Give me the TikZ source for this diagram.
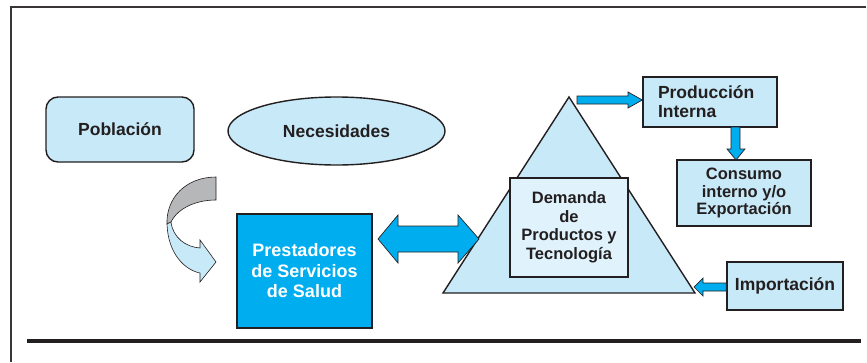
\documentclass[tikz,border=0pt]{standalone}
\usepackage{fontspec}
\setmainfont{Liberation Sans}
\usetikzlibrary{shapes.geometric}
\definecolor{lblue}{HTML}{C8E9F8}
\definecolor{llblue}{HTML}{E0F3FC}
\definecolor{cyanb}{HTML}{00AEEF}
\definecolor{ink}{HTML}{231F20}
\definecolor{grayarr}{HTML}{B5B7B9}
\begin{document}
\begin{tikzpicture}[x=1pt,y=-1pt,
  box/.style={draw=ink,line width=1.4pt,fill=lblue,inner sep=0pt,text=ink,align=center,
    font=\bfseries\fontsize{17.5}{19}\selectfont},
  blockarrow/.style={draw=ink,line width=0.7pt,fill=cyanb,line join=miter},
  frameline/.style={draw=ink!90,line width=1.2pt}]
\useasboundingbox (0,0) rectangle (867,362);
% frame
\draw[frameline] (11,362) -- (11,7) -- (866,7);
\draw[ink,line width=3.5pt] (27,341) -- (861,341);
% nodes
\node[box,rounded corners=12pt,minimum width=148pt,minimum height=65pt] (pob) at (120,129.5) {Población};
\node[box,ellipse,minimum width=217pt,minimum height=68pt] (nec) at (336.5,131) {Necesidades};
\node[box,fill=cyanb,text=white,minimum width=135pt,minimum height=114pt,
  font=\bfseries\fontsize{18}{20.5}\selectfont] (pre) at (304.5,271) {Prestadores\\de Servicios\\de Salud};
% triangle
\coordinate (apex) at (569,97);
\coordinate (bl) at (443,293);
\coordinate (br) at (695,293);
\draw[fill=lblue,draw=ink,line width=1.4pt] (apex) -- (bl) -- (br) -- cycle;
\node[box,fill=llblue,minimum width=118pt,minimum height=99pt,
  font=\bfseries\fontsize{16.5}{18.5}\selectfont] (dem) at (569,227.5) {Demanda\\de\\Productos y\\Tecnología};
\node[box,minimum width=134pt,minimum height=50pt,inner xsep=15pt,text width=104pt,align=left] (prod) at (710,102) {Producción\\Interna};
\node[box,minimum width=134pt,minimum height=66pt,
  font=\bfseries\fontsize{16.5}{17.5}\selectfont] (con) at (744,193) {Consumo\\interno y/o\\Exportación};
\node[box,minimum width=116pt,minimum height=48pt] (imp) at (785,286) {Importación};
% curved arrow (gray back, light blue front)
\coordinate (twist) at (167,224);
\draw[draw=ink,line width=0.6pt,fill=grayarr]
  (216,177) .. controls (186,177) and (166,198) .. (twist)
  -- (171,222) .. controls (178,208) and (196,200) .. (216,200) -- cycle;
\draw[draw=ink,line width=0.6pt,fill=lblue]
  (twist) .. controls (168,254) and (185,270) .. (200,273)
  -- (200,282) -- (216,262) -- (200,240) -- (200,248)
  .. controls (186,247) and (173,238) .. (171,222) -- cycle;
% double arrow between Prestadores and triangle
\draw[blockarrow] (378,239) -- (398,215) -- (398,226) -- (458,226) -- (458,215) -- (479,239)
  -- (458,263) -- (458,252) -- (398,252) -- (398,263) -- cycle;
% triangle -> Produccion
\draw[blockarrow] (577,96) -- (628,96) -- (628,92) -- (prod.west |- 0,100) -- (628,108) -- (628,104) -- (577,104) -- cycle;
% Produccion -> Consumo
\draw[blockarrow] (731,127) -- (731,149) -- (727,149) -- (736,160) -- (745,149) -- (740,149) -- (740,127) -- cycle;
% Importacion -> triangle
\draw[blockarrow] (imp.west |- 0,283) -- (703,283) -- (703,278) -- (694,287) -- (703,296) -- (703,291) -- (imp.west |- 0,291) -- cycle;
\end{tikzpicture}
\end{document}
